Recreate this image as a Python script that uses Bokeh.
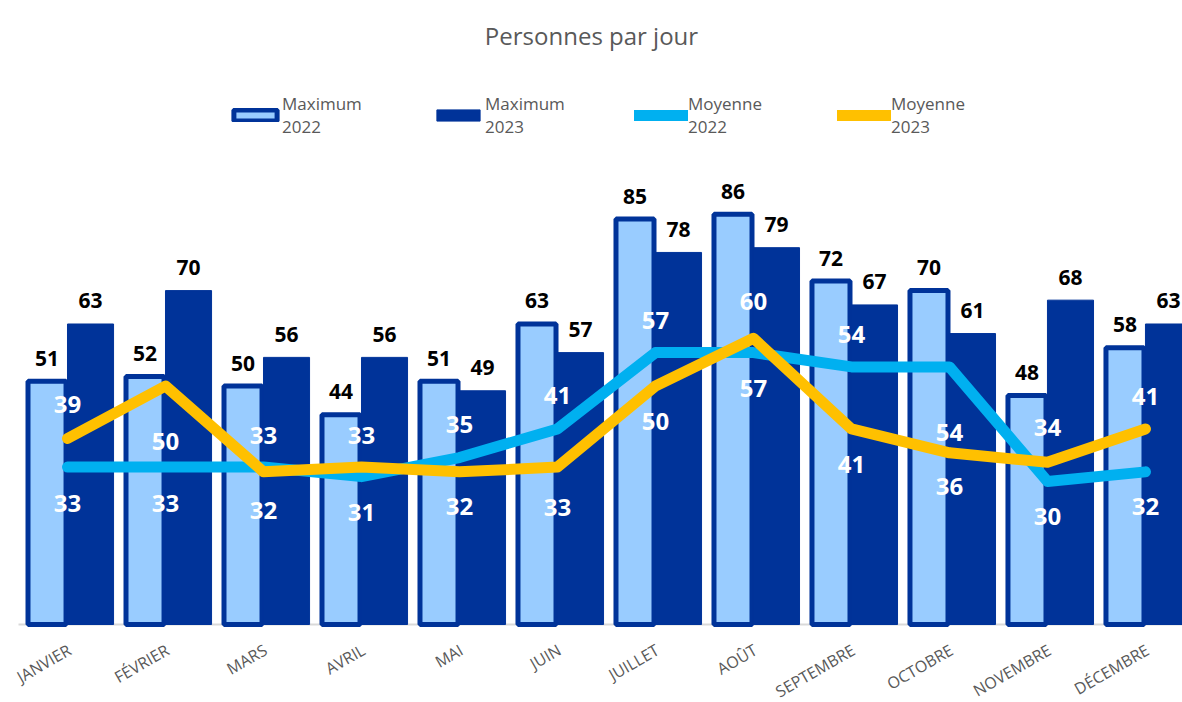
from bokeh.plotting import figure
from bokeh.models import ColumnDataSource, Range1d, Legend, LegendItem
from bokeh.embed import file_html
from bokeh.resources import INLINE
from bokeh.core.properties import value

months = ["JANVIER", "FÉVRIER", "MARS", "AVRIL", "MAI", "JUIN", "JUILLET",
          "AOÛT", "SEPTEMBRE", "OCTOBRE", "NOVEMBRE", "DÉCEMBRE"]
max_2022 = [51, 52, 50, 44, 51, 63, 85, 86, 72, 70, 48, 58]
max_2023 = [63, 70, 56, 56, 49, 57, 78, 79, 67, 61, 68, 63]
moy_2022 = [33, 33, 33, 31, 35, 41, 57, 57, 54, 54, 30, 32]
moy_2023 = [39, 50, 32, 33, 32, 33, 50, 60, 41, 36, 34, 41]

# label placement (screen px, positive = down)
lab_off_2022 = [36, 36, -32, 36, -33, -33, -32, 36, -32, 66, 35, 35]
lab_off_2023 = [-34, 55, 39, -32, 35, 40, 35, -37, 36, 34, -35, -32]

n = len(months)
xs = [i + 0.5 for i in range(n)]

LIGHT = "#99CCFF"
DARK = "#003399"
CYAN = "#00B0F0"
GOLD = "#FFC000"
FONT = "Open Sans"

src = ColumnDataSource(dict(
    x=xs,
    x22=[x - 0.209 for x in xs],
    x23=[x + 0.235 for x in xs],
    zero=[0] * n,
    month=months,
    max22=max_2022, max23=max_2023,
    moy22=moy_2022, moy23=moy_2023,
    max22_t=[str(v) for v in max_2022],
    max23_t=[str(v) for v in max_2023],
    moy22_t=[str(v) for v in moy_2022],
    moy23_t=[str(v) for v in moy_2023],
    off22=lab_off_2022, off23=lab_off_2023,
))

p = figure(width=1182, height=702, output_backend="svg", toolbar_location=None,
           x_range=Range1d(-0.1837, 11.878), y_range=Range1d(-16.35, 118.24),
           x_axis_location=None, y_axis_location=None,
           min_border_left=0, min_border_right=0, min_border_bottom=0,
           min_border_top=60)
p.title.text = "Personnes par jour"
p.title.align = "center"
p.title.padding = 4
p.title.text_font = FONT
p.title.text_font_size = "24px"
p.title.text_font_style = "normal"
p.title.text_color = "#595959"

p.outline_line_color = None
p.xgrid.visible = False
p.ygrid.visible = False

# category axis baseline
p.segment(x0=0, y0=0, x1=n, y1=0, line_color="#D9D9D9", line_width=2)

r1 = p.vbar(x="x22", top="max22", width=0.388, bottom=0, source=src,
            fill_color=LIGHT, line_color=DARK, line_width=5)
r2 = p.vbar(x="x23", top="max23", width=0.47, bottom=0, source=src,
            fill_color=DARK, line_color=DARK, line_width=1)
r3 = p.line(x="x", y="moy22", source=src, line_color=CYAN, line_width=11,
            line_cap="round", line_join="round")
r4 = p.line(x="x", y="moy23", source=src, line_color=GOLD, line_width=11,
            line_cap="round", line_join="round")

# bar labels
for xcol, tcol, ycol in (("x22", "max22_t", "max22"), ("x23", "max23_t", "max23")):
    p.text(x=xcol, y=ycol, text=tcol, source=src, y_offset=-23,
           text_align="center", text_baseline="middle",
           text_font=value(FONT), text_font_style="bold",
           text_font_size="21px", text_color="#000000")

# line labels
for ycol, tcol, ocol in (("moy22", "moy22_t", "off22"), ("moy23", "moy23_t", "off23")):
    p.text(x="x", y=ycol, text=tcol, source=src, y_offset=ocol,
           text_align="center", text_baseline="middle",
           text_font=value(FONT), text_font_style="bold",
           text_font_size="24px", text_color="#FFFFFF")

# category labels (rotated)
p.text(x="x", y="zero", text="month", source=src, angle=0.5236,
       x_offset=2, y_offset=24, text_align="right", text_baseline="middle",
       text_font=value(FONT), text_font_size="16px", text_color="#595959")

legend = Legend(items=[
    LegendItem(label="Maximum\n2022", renderers=[r1]),
    LegendItem(label="Maximum\n2023", renderers=[r2]),
    LegendItem(label="Moyenne\n2022", renderers=[r3]),
    LegendItem(label="Moyenne\n2023", renderers=[r4]),
], orientation="horizontal", location=(228, 564))
legend.label_text_font = FONT
legend.label_text_font_size = "17px"
legend.label_text_color = "#595959"
legend.glyph_width = 54
legend.glyph_height = 14
legend.label_standoff = 0
legend.label_width = 130
legend.spacing = 19
legend.padding = 0
legend.margin = 0
legend.border_line_color = None
legend.background_fill_alpha = 0
p.add_layout(legend, "center")

open("out.html", "w").write(file_html(p, INLINE))
